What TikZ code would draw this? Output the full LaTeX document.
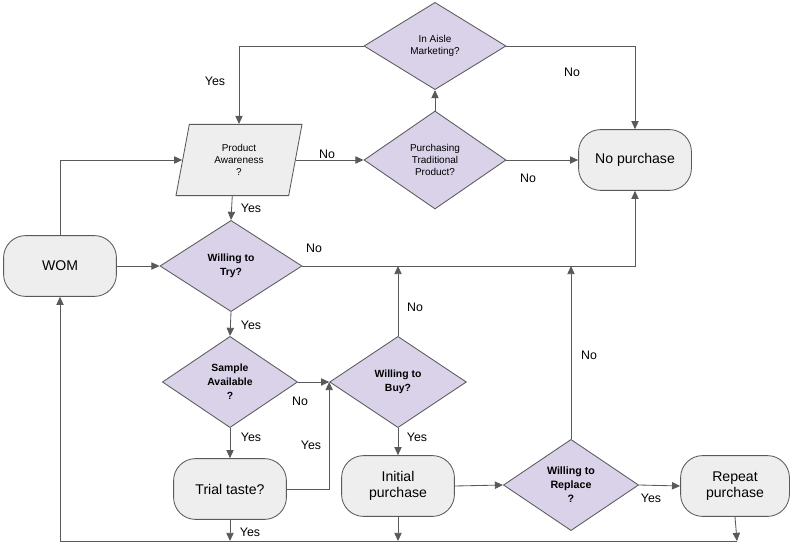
\documentclass[tikz,border=0pt]{standalone}
\usepackage{fontspec}
\setmainfont{Liberation Sans}
\usepackage{xcolor}
\usetikzlibrary{shapes.geometric,arrows.meta,positioning,calc}
\definecolor{lav}{HTML}{D9D2E9}
\definecolor{boxgray}{HTML}{EEEEEE}
\definecolor{linegray}{HTML}{595959}

\begin{document}
\begin{tikzpicture}[
  x=0.025cm, y=-0.025cm,
  term/.style={rectangle,rounded corners=0.55cm,minimum width=2.82cm,minimum height=1.52cm,
               align=center,draw=linegray,fill=boxgray,line width=0.6pt,
               font=\fontsize{10}{11.8}\selectfont},
  dec/.style={diamond,inner sep=0pt,minimum width=3.55cm,minimum height=2.28cm,align=center,
              draw=linegray,fill=lav,line width=0.6pt,font=\fontsize{7.4}{10}\selectfont\bfseries},
  decs/.style={dec,font=\fontsize{7.1}{8.7}\selectfont},
  io/.style={trapezium,trapezium left angle=72,trapezium right angle=108,
             trapezium stretches body,minimum width=3.15cm,minimum height=1.78cm,
             align=center,draw=linegray,fill=boxgray,line width=0.6pt,
             font=\fontsize{7.1}{8.7}\selectfont},
  arr/.style={-{Triangle[length=5.8pt,width=5.2pt]},draw=linegray,line width=0.6pt},
  lbl/.style={font=\fontsize{8.8}{10}\selectfont,inner sep=0pt}
]
\useasboundingbox (0,0) rectangle (795,544);

% nodes
\node[term] (wom) at (60,266) {WOM};
\node[io] (pa) at (239,160) {Product\\Awareness\\?};
\node[decs,minimum height=2.45cm] (ptp) at (435,160) {Purchasing\\Traditional\\Product?};
\node[decs,minimum height=2.18cm] (ias) at (435,46) {In Aisle\\Marketing?};
\node[term] (np) at (635,160) {No purchase};
\node[dec] (wtt) at (231,266) {Willing to\\Try?};
\node[dec,minimum width=3.38cm] (sa) at (230,382) {Sample\\Available\\?};
\node[dec,minimum width=3.42cm] (wtb) at (398,382) {Willing to\\Buy?};
\node[term] (tt) at (230,489) {Trial taste?};
\node[term] (ip) at (398,486) {Initial\\purchase};
\node[dec,minimum width=3.38cm,font=\fontsize{7.6}{10}\selectfont\bfseries] (wtr) at (571,485) {Willing to\\Replace\\?};
\node[term,minimum width=2.72cm] (rp) at (735,486) {Repeat\\purchase};

\coordinate (bl) at (737,541);
\coordinate (jb) at (wtb.north |- wtt.east);
\coordinate (jr) at (wtr.north |- wtt.east);

% connectors
\draw[arr] (wom.north) |- (pa.left side);
\draw[arr] (wom.east) -- (wtt.west);
\draw[arr] (pa.right side) -- (ptp.west);
\draw[arr] (ptp.north) -- (ias.south);
\draw[arr] (ias.west) -| (pa.north);
\draw[arr] (ias.east) -| (np.north);
\draw[arr] (ptp.east) -- (np.west);
\draw[arr] (pa.bottom side) -- (wtt.north);
\draw[arr] (wtt.east) -| (np.south);
\draw[arr] (wtt.south) -- (sa.north);
\draw[arr] (sa.east) -- (wtb.west);
\draw[arr] (sa.south) -- (tt.north);
\draw[arr] (tt.east) -| (wtb.west);
\draw[arr] (wtb.north) -- (jb);
\draw[arr] (wtb.south) -- (ip.north);
\draw[arr] (ip.east) -- (wtr.west);
\draw[arr] (wtr.north) -- (jr);
\draw[arr] (wtr.east) -- (rp.west);
\draw[arr] (tt.south) -- (tt.south |- bl);
\draw[arr] (ip.south) -- (ip.south |- bl);
\draw[arr] (rp.south) -- (bl);
\draw[arr] (bl) -| (wom.south);

% yes / no labels
\node[lbl] (yIas) at (215,81)  {Yes};
\node[lbl] (nIas) at (572,72)  {No};
\node[lbl] (nPa)  at (327,154) {No};
\node[lbl] (nPtp) at (528,178) {No};
\node[lbl] (yPa)  at (251,208) {Yes};
\node[lbl] (nWtt) at (314,248) {No};
\node[lbl] (yWtt) at (251,325) {Yes};
\node[lbl] (nSa)  at (300,401) {No};
\node[lbl] (ySa)  at (251,437) {Yes};
\node[lbl] (yTt)  at (311,445) {Yes};
\node[lbl] (yTtb) at (250,532) {Yes};
\node[lbl] (nWtb) at (415,307) {No};
\node[lbl] (yWtb) at (417,437) {Yes};
\node[lbl] (nWtr) at (589,355) {No};
\node[lbl] (yWtr) at (651,498) {Yes};
\end{tikzpicture}
\end{document}
